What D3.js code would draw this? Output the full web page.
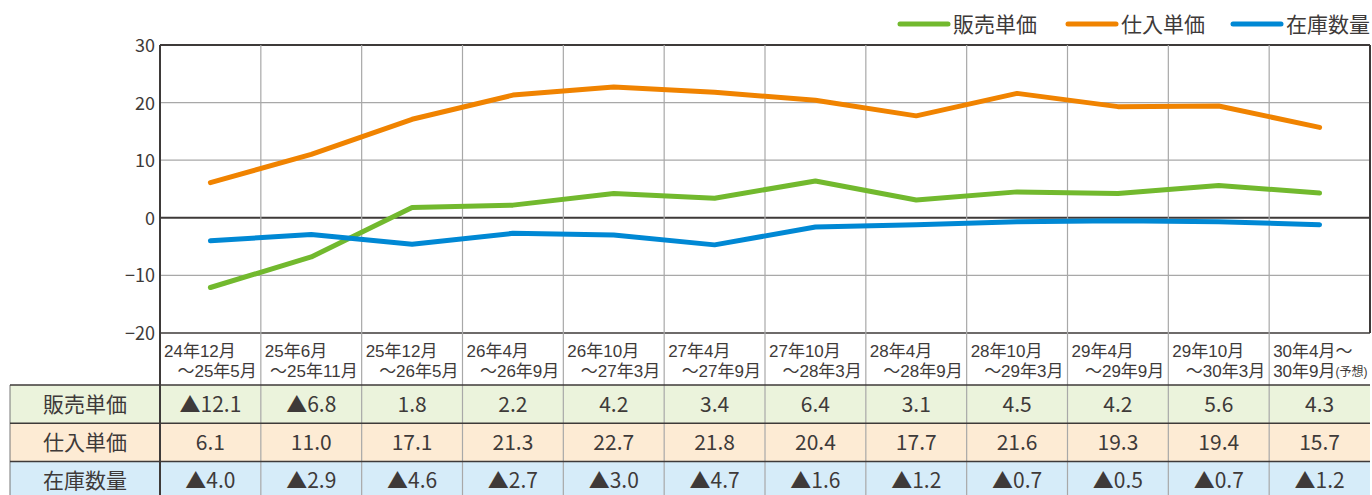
<!DOCTYPE html>
<html><head><meta charset="utf-8">
<script src="https://cdn.jsdelivr.net/npm/d3@7"></script>
<style>
html,body{margin:0;padding:0;background:#fff;}
svg{display:block;font-family:"Noto Sans CJK JP","Noto Sans",sans-serif;}
</style></head>
<body>
<svg id="chart" width="1372" height="495"></svg>
<script>
const catLine1 = ["24年12月","25年6月","25年12月","26年4月","26年10月","27年4月","27年10月","28年4月","28年10月","29年4月","29年10月","30年4月～"];
const catLine2 = ["～25年5月","～25年11月","～26年5月","～26年9月","～27年3月","～27年9月","～28年3月","～28年9月","～29年3月","～29年9月","～30年3月","30年9月"];
const seriesNames = ["販売単価","仕入単価","在庫数量"];
const sales = [-12.1,-6.8,1.8,2.2,4.2,3.4,6.4,3.1,4.5,4.2,5.6,4.3];
const purchase = [6.1,11.0,17.1,21.3,22.7,21.8,20.4,17.7,21.6,19.3,19.4,15.7];
const inventory = [-4.0,-2.9,-4.6,-2.7,-3.0,-4.7,-1.6,-1.2,-0.7,-0.5,-0.7,-1.2];
const yTicks = [-20,-10,0,10,20,30];
const lineColors = ["#72b92e","#f08300","#0088d4"];
const rowColors = ["#ebf3dc","#fdebd4","#d6ecf9"];

const series = [sales, purchase, inventory];
const svg = d3.select("#chart");
const L = 160, R = 1370, T = 45, B = 333;
const x = d3.scaleBand().domain(d3.range(catLine1.length)).range([L, R]).padding(0);
const y = d3.scaleLinear().domain([-20, 30]).range([B, T]);
const tableTop = 385, rowH = 38.3, tableLeft = 10;
const dark = "#3e3a39", grid = "#a8a8a8";

// table backgrounds
series.forEach((s, i) => {
  svg.append("rect").attr("x", tableLeft).attr("y", tableTop + i*rowH)
    .attr("width", R - tableLeft).attr("height", rowH).attr("fill", rowColors[i]);
});

// horizontal gridlines
svg.append("g").selectAll("line").data(yTicks).join("line")
  .attr("x1", L).attr("x2", R)
  .attr("y1", d => y(d)).attr("y2", d => y(d))
  .attr("stroke", d => (d === 0 || d === -20 || d === 30) ? dark : grid)
  .attr("stroke-width", d => (d === 0 || d === 30) ? 2 : (d === -20 ? 1.5 : 1.2));

// vertical gridlines (column separators) through plot, labels and table
svg.append("g").selectAll("line").data(d3.range(1, catLine1.length)).join("line")
  .attr("x1", d => x(d)).attr("x2", d => x(d))
  .attr("y1", T).attr("y2", 495)
  .attr("stroke", grid).attr("stroke-width", 1.2);

// left axis line & right border
svg.append("line").attr("x1", L).attr("x2", L).attr("y1", T).attr("y2", 495).attr("stroke", dark).attr("stroke-width", 2);
svg.append("line").attr("x1", R).attr("x2", R).attr("y1", T).attr("y2", B).attr("stroke", dark).attr("stroke-width", 2);
svg.append("line").attr("x1", tableLeft).attr("x2", tableLeft).attr("y1", tableTop).attr("y2", 495).attr("stroke", "#777").attr("stroke-width", 1);

// table horizontal borders
d3.range(0, 3).forEach(i => {
  svg.append("line").attr("x1", tableLeft).attr("x2", R)
    .attr("y1", tableTop + i*rowH).attr("y2", tableTop + i*rowH)
    .attr("stroke", dark).attr("stroke-width", 1.5);
});

// y axis labels
const yAxis = d3.axisLeft(y).tickValues(yTicks).tickSize(0).tickPadding(5);
const ga = svg.append("g").attr("transform", `translate(${L},0)`).call(yAxis);
ga.select(".domain").remove();
ga.selectAll("text").attr("font-size", 18).attr("fill", dark)
  .attr("font-family", '"Noto Sans CJK JP",sans-serif').attr("dy", "0.36em");

// category labels (two lines)
const last = catLine1.length - 1;
const cats = svg.append("g").attr("font-size", 17).attr("fill", dark)
  .attr("font-family", '"Liberation Sans","Noto Sans CJK JP",sans-serif');
cats.selectAll("text.l1").data(catLine1).join("text").attr("class", "l1")
  .attr("x", (d, i) => x(i) + 4).attr("y", 357).text(d => d);
cats.selectAll("text.l2").data(catLine2).join("text").attr("class", "l2")
  .attr("x", (d, i) => i === last ? x(i) + 4 : x(i) + x.bandwidth() - 4)
  .attr("y", 377)
  .attr("text-anchor", (d, i) => i === last ? "start" : "end")
  .each(function(d, i) {
    const t = d3.select(this);
    t.append("tspan").text(d);
    if (i === last) t.append("tspan").attr("font-size", 12).attr("dy", -1).text("(予想)");
  });

// table labels and values
const fmt = v => (v < 0 ? "▲" : "") + Math.abs(v).toFixed(1);
series.forEach((s, r) => {
  const cy = tableTop + r*rowH + rowH/2;
  svg.append("text").attr("x", (tableLeft + L)/2).attr("y", cy).attr("dy", "0.36em")
    .attr("text-anchor", "middle").attr("font-size", 21).attr("fill", dark).text(seriesNames[r]);
  svg.append("g").selectAll("text").data(s).join("text")
    .attr("x", (d, i) => x(i) + x.bandwidth()/2).attr("y", cy).attr("dy", "0.36em")
    .attr("text-anchor", "middle").attr("font-size", 21).attr("fill", dark)
    .text(d => fmt(d));
});

// lines
const line = d3.line().x((d, i) => x(i) + x.bandwidth()/2).y(d => y(d));
series.forEach((s, i) => {
  svg.append("path").datum(s).attr("d", line).attr("fill", "none")
    .attr("stroke", lineColors[i]).attr("stroke-width", 5)
    .attr("stroke-linecap", "round").attr("stroke-linejoin", "round");
});

// legend
const legX = [900, 1068, 1233];
seriesNames.forEach((n, i) => {
  svg.append("line").attr("x1", legX[i]).attr("x2", legX[i] + 48).attr("y1", 24).attr("y2", 24)
    .attr("stroke", lineColors[i]).attr("stroke-width", 5).attr("stroke-linecap", "round");
  svg.append("text").attr("x", legX[i] + 53).attr("y", 24).attr("dy", "0.36em")
    .attr("font-size", 21).attr("fill", dark).text(n);
});
</script>
</body></html>
